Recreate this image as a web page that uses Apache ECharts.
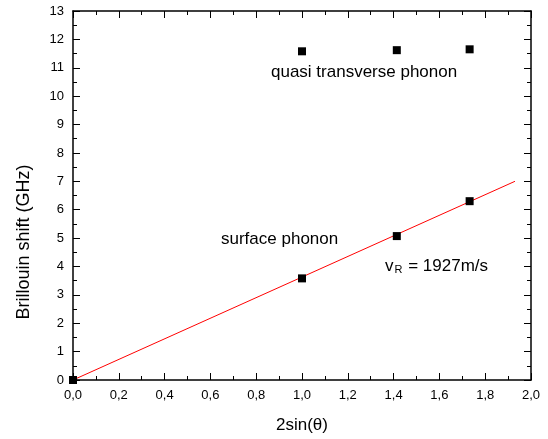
<!DOCTYPE html>
<html>
<head>
<meta charset="utf-8">
<script src="https://cdn.jsdelivr.net/npm/echarts@6/dist/echarts.min.js"></script>
<style>
  html, body { margin: 0; padding: 0; background: #fff; }
  #main { width: 548px; height: 439px; }
</style>
</head>
<body>
<div id="main"></div>
<script>
// ------------------------------------------------------
// Data
// ------------------------------------------------------
var sinValues = [0.0, 1.0, 1.414, 1.732];
var surfaceShift = [0.0, 3.58, 5.07, 6.30];
var transverseX = [1.0, 1.414, 1.732];
var transverseShift = [11.58, 11.62, 11.65];
var fitX = [0.0, 1.93];
var fitY = [0.0, 7.0];

var xTitle = '2sin(\u03b8)';
var yTitle = 'Brillouin shift (GHz)';

// Helpers
function pairs(xs, ys) {
  return xs.map(function (x, i) { return [x, ys[i]]; });
}

var font = 'Liberation Sans, Arial, Helvetica, sans-serif';

// fresh objects for every axis (frame with inward ticks)
function frameAxis(extra) {
  var ax = {
    type: 'value',
    axisLine: { show: true, onZero: false, lineStyle: { color: '#000', width: 1.5 } },
    axisTick: { show: true, inside: true, length: 7, lineStyle: { color: '#000', width: 1 } },
    splitLine: { show: false }
  };
  for (var k in extra) ax[k] = extra[k];
  return ax;
}

// extra unlabeled axes that only draw the short half-step ticks
function minorAxis(extra) {
  var ax = {
    type: 'value',
    axisLine: { show: false, onZero: false },
    axisTick: { show: true, inside: true, length: 4, lineStyle: { color: '#000', width: 1 } },
    axisLabel: { show: false },
    splitLine: { show: false }
  };
  for (var k in extra) ax[k] = extra[k];
  return ax;
}

var chart = echarts.init(document.getElementById('main'));

var option = {
  animation: false,
  backgroundColor: '#fff',
  grid: { left: 73, right: 17, top: 11, bottom: 56 },
  xAxis: [
    frameAxis({
      min: 0, max: 2, interval: 0.2, position: 'bottom',
      name: xTitle, nameLocation: 'middle', nameGap: 37,
      nameTextStyle: { fontFamily: font, fontSize: 17, color: '#000' },
      axisLabel: {
        fontFamily: font, fontSize: 13, color: '#000', margin: 9,
        formatter: function (v) { return v.toFixed(1).replace('.', ','); }
      }
    }),
    frameAxis({
      min: 0, max: 2, interval: 0.2, position: 'top',
      axisLabel: { show: false }
    }),
    minorAxis({ min: 0, max: 2, interval: 0.1, position: 'bottom' }),
    minorAxis({ min: 0, max: 2, interval: 0.1, position: 'top' })
  ],
  yAxis: [
    frameAxis({
      min: 0, max: 13, interval: 1, position: 'left',
      axisLabel: { fontFamily: font, fontSize: 13, color: '#000', margin: 9 }
    }),
    frameAxis({
      min: 0, max: 13, interval: 1, position: 'right',
      axisLabel: { show: false }
    }),
    minorAxis({ min: 0, max: 13, interval: 0.5, position: 'left' }),
    minorAxis({ min: 0, max: 13, interval: 0.5, position: 'right' })
  ],
  series: [
    {
      name: 'fit', type: 'line', data: pairs(fitX, fitY),
      symbol: 'none', lineStyle: { color: '#ff0000', width: 1 }, z: 2
    },
    {
      name: 'surface phonon', type: 'scatter', data: pairs(sinValues, surfaceShift),
      symbol: 'rect', symbolSize: 8, itemStyle: { color: '#000', opacity: 1 }, z: 3
    },
    {
      name: 'quasi transverse phonon', type: 'scatter', data: pairs(transverseX, transverseShift),
      symbol: 'rect', symbolSize: 8, itemStyle: { color: '#000', opacity: 1 }, z: 3
    }
  ],
  graphic: [
    {
      type: 'text', x: 24, y: 242, rotation: Math.PI / 2,
      style: {
        text: yTitle, font: '18px ' + font, fill: '#000',
        align: 'center', verticalAlign: 'middle'
      }
    },
    {
      type: 'text', left: 271, top: 64,
      style: { text: 'quasi transverse phonon', font: '17px ' + font, fill: '#000' }
    },
    {
      type: 'text', left: 221, top: 231,
      style: { text: 'surface phonon', font: '17px ' + font, fill: '#000' }
    },
    {
      type: 'text', left: 385, top: 258,
      style: {
        text: '{v|v}{s|R}{v| = 1927m/s}',
        rich: {
          v: { fontFamily: font, fontSize: 17, fill: '#000', verticalAlign: 'bottom' },
          s: { fontFamily: font, fontSize: 11, fill: '#000', padding: [9, 1, 0, 1], verticalAlign: 'bottom' }
        }
      }
    }
  ]
};

chart.setOption(option);
</script>
</body>
</html>
